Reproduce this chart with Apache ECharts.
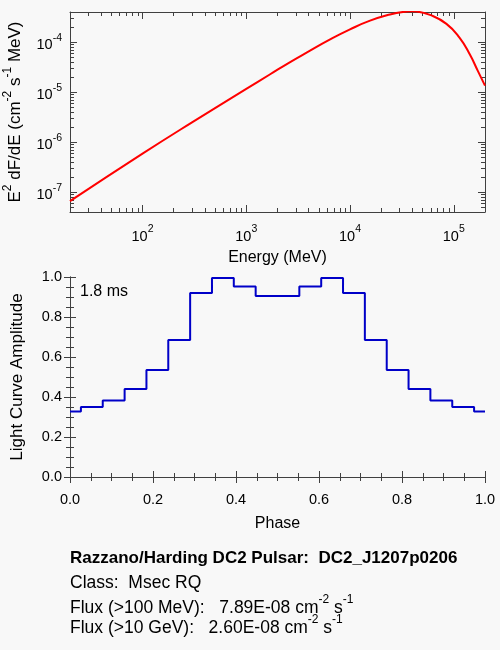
<!DOCTYPE html>
<html>
<head>
<meta charset="utf-8">
<script src="https://cdn.jsdelivr.net/npm/echarts@6/dist/echarts.min.js"></script>
<style>
  html, body { margin: 0; padding: 0; background: #f8f8f8; }
  #chart { width: 500px; height: 650px; }
</style>
</head>
<body>
<div id="chart"></div>
<script>
// spectrum
var energyMeV = [20, 100, 300, 1000, 1700, 2600, 4000, 6300, 10000, 15600, 24300, 32600, 39000, 44000, 59000, 85000, 114000, 143000, 171000, 200000];
var e2dfde = [6.6e-8, 5.9e-7, 2.5e-6, 1.17e-5, 2.3e-5, 3.95e-5, 6.6e-5, 1.12e-4, 1.82e-4, 2.72e-4, 3.62e-4, 4.08e-4, 4.18e-4, 4.13e-4, 3.55e-4, 2.35e-4, 1.23e-4, 5.7e-5, 2.65e-5, 1.36e-5];

// light curve: left bin edges + last right edge, and amplitude per bin
var phaseEdges = [0, 0.0263, 0.0789, 0.1316, 0.1842, 0.2368, 0.2895, 0.3421, 0.3947, 0.4474, 0.5, 0.5526, 0.6053, 0.6579, 0.7105, 0.7632, 0.8158, 0.8684, 0.9211, 0.9737, 1.0];
var amplitude = [0.327, 0.35, 0.382, 0.44, 0.535, 0.685, 0.92, 0.995, 0.953, 0.905, 0.905, 0.953, 0.995, 0.92, 0.685, 0.535, 0.44, 0.382, 0.35, 0.327];

var myChart = echarts.init(document.getElementById("chart"));
var ff = '"Liberation Sans", Arial, Helvetica, sans-serif';
var axisCol = '#404040';

var specData = [];
for (var i = 0; i < energyMeV.length; i++) {
    specData.push([energyMeV[i], e2dfde[i]]);
}
var lcData = [];
for (var j = 0; j < amplitude.length; j++) {
    lcData.push([phaseEdges[j], amplitude[j]]);
}
lcData.push([phaseEdges[phaseEdges.length - 1], amplitude[amplitude.length - 1]]);

var supRich = {
    b: { fontFamily: ff, fontSize: 14.5, color: '#000', verticalAlign: 'bottom', padding: [5, 0, 0, 0] },
    s: { fontFamily: ff, fontSize: 10.5, color: '#000', verticalAlign: 'top' }
};
var nameRich = {
    b: { fontFamily: ff, fontSize: 17, color: '#000', verticalAlign: 'bottom', padding: [5, 0, 0, 0] },
    s: { fontFamily: ff, fontSize: 12, color: '#000', verticalAlign: 'top' }
};
var infoRich = {
    b: { fontFamily: ff, fontSize: 17.5, color: '#000', verticalAlign: 'bottom', padding: [5, 0, 0, 0] },
    s: { fontFamily: ff, fontSize: 12, color: '#000', verticalAlign: 'top' }
};
function powLabel(v) {
    var e = Math.round(Math.log(v) / Math.LN10);
    return '{b|10}{s|' + e + '}';
}
function frameAxis(extra) {
    var a = {
        axisLine: { show: true, lineStyle: { color: axisCol, width: 1 } },
        axisTick: { show: true, inside: true, length: 7, lineStyle: { color: axisCol } },
        minorTick: { show: true, length: 4, lineStyle: { color: axisCol } },
        splitLine: { show: false },
        minorSplitLine: { show: false }
    };
    for (var k in extra) a[k] = extra[k];
    return a;
}

option = {
    backgroundColor: '#f8f8f8',
    animation: false,
    grid: [
        { left: 70, right: 15, top: 12, height: 200, containLabel: false, outerBoundsMode: 'none' },
        { left: 70, right: 15, top: 277, height: 200, containLabel: false, outerBoundsMode: 'none' }
    ],
    xAxis: [
        frameAxis({ gridIndex: 0, type: 'log', logBase: 10, min: 20, max: 200000, position: 'bottom',
            minorTick: { show: true, splitNumber: 9, length: 4, lineStyle: { color: axisCol } },
            axisLabel: { margin: 12, showMinLabel: false, showMaxLabel: false, formatter: powLabel, rich: supRich },
            name: 'Energy (MeV)', nameLocation: 'middle', nameGap: 38,
            nameTextStyle: { fontFamily: ff, fontSize: 16, color: '#000' } }),
        frameAxis({ gridIndex: 0, type: 'log', logBase: 10, min: 20, max: 200000, position: 'top',
            minorTick: { show: true, splitNumber: 9, length: 4, lineStyle: { color: axisCol } },
            axisLabel: { show: false } }),
        frameAxis({ gridIndex: 1, type: 'value', min: 0, max: 1, interval: 0.2, position: 'bottom',
            minorTick: { show: true, splitNumber: 4, length: 4, lineStyle: { color: axisCol } },
            axisTick: { show: true, inside: true, length: 6, lineStyle: { color: axisCol } },
            axisLabel: { margin: 15, fontFamily: ff, fontSize: 14.5, color: '#000',
                formatter: function (v) { return v.toFixed(1); } },
            name: 'Phase', nameLocation: 'middle', nameGap: 39,
            nameTextStyle: { fontFamily: ff, fontSize: 16, color: '#000' } }),
        frameAxis({ gridIndex: 1, type: 'value', min: 0, max: 1, interval: 0.2, position: 'top',
            minorTick: { show: true, splitNumber: 4, length: 4, lineStyle: { color: axisCol } },
            axisTick: { show: true, inside: true, length: 6, lineStyle: { color: axisCol } },
            axisLabel: { show: false } })
    ],
    yAxis: [
        frameAxis({ gridIndex: 0, type: 'log', logBase: 10, min: 4e-8, max: 4.06e-4, position: 'left',
            minorTick: { show: true, splitNumber: 9, length: 4, lineStyle: { color: axisCol } },
            axisLabel: { margin: 8, showMinLabel: false, showMaxLabel: false, formatter: powLabel, rich: supRich },
            name: '{b|E}{s|2}{b| dF/dE (cm}{s|-2}{b| s}{s|-1}{b| MeV)}', nameLocation: 'middle', nameGap: 46,
            nameRotate: 90, nameTextStyle: { rich: nameRich } }),
        frameAxis({ gridIndex: 0, type: 'log', logBase: 10, min: 4e-8, max: 4.06e-4, position: 'right',
            minorTick: { show: true, splitNumber: 9, length: 4, lineStyle: { color: axisCol } },
            axisLabel: { show: false } }),
        frameAxis({ gridIndex: 1, type: 'value', min: 0, max: 1, interval: 0.2, position: 'left',
            minorTick: { show: true, splitNumber: 4, length: 4, lineStyle: { color: axisCol } },
            axisTick: { show: true, inside: true, length: 6, lineStyle: { color: axisCol } },
            axisLabel: { margin: 8, fontFamily: ff, fontSize: 14.5, color: '#000',
                formatter: function (v) { return v.toFixed(1); } },
            name: 'Light Curve Amplitude', nameLocation: 'middle', nameGap: 44, nameRotate: 90,
            nameTextStyle: { fontFamily: ff, fontSize: 17, color: '#000' } }),
        frameAxis({ gridIndex: 1, type: 'value', min: 0, max: 1, interval: 0.2, position: 'right',
            minorTick: { show: true, splitNumber: 4, length: 4, lineStyle: { color: axisCol } },
            axisTick: { show: true, inside: true, length: 6, lineStyle: { color: axisCol } },
            axisLabel: { show: false } })
    ],
    series: [
        {
            type: 'line', xAxisIndex: 0, yAxisIndex: 0,
            data: specData, smooth: true, showSymbol: false,
            lineStyle: { color: '#ff0000', width: 2 }
        },
        {
            type: 'line', xAxisIndex: 2, yAxisIndex: 2,
            data: lcData, step: 'end', showSymbol: false,
            lineStyle: { color: '#0000c8', width: 2 }
        }
    ],
    graphic: [
        { type: 'text', left: 80, top: 284, style: { text: '1.8 ms', font: '16px ' + ff, fill: '#000' } },
        { type: 'text', left: 70, top: 550, style: { text: 'Razzano/Harding DC2 Pulsar:  DC2_J1207p0206', font: 'bold 17px ' + ff, fill: '#000' } },
        { type: 'text', left: 70, top: 574, style: { text: 'Class:  Msec RQ', font: '17.5px ' + ff, fill: '#000' } },
        { type: 'text', left: 70, top: 594, style: {
            text: '{b|Flux (>100 MeV):   7.89E-08 cm}{s|-2}{b| s}{s|-1}', rich: infoRich } },
        { type: 'text', left: 70, top: 614, style: {
            text: '{b|Flux (>10 GeV):   2.60E-08 cm}{s|-2}{b| s}{s|-1}', rich: infoRich } }
    ]
};
if (option && typeof option === "object") {
    myChart.setOption(option, true);
}
</script>
</body>
</html>
